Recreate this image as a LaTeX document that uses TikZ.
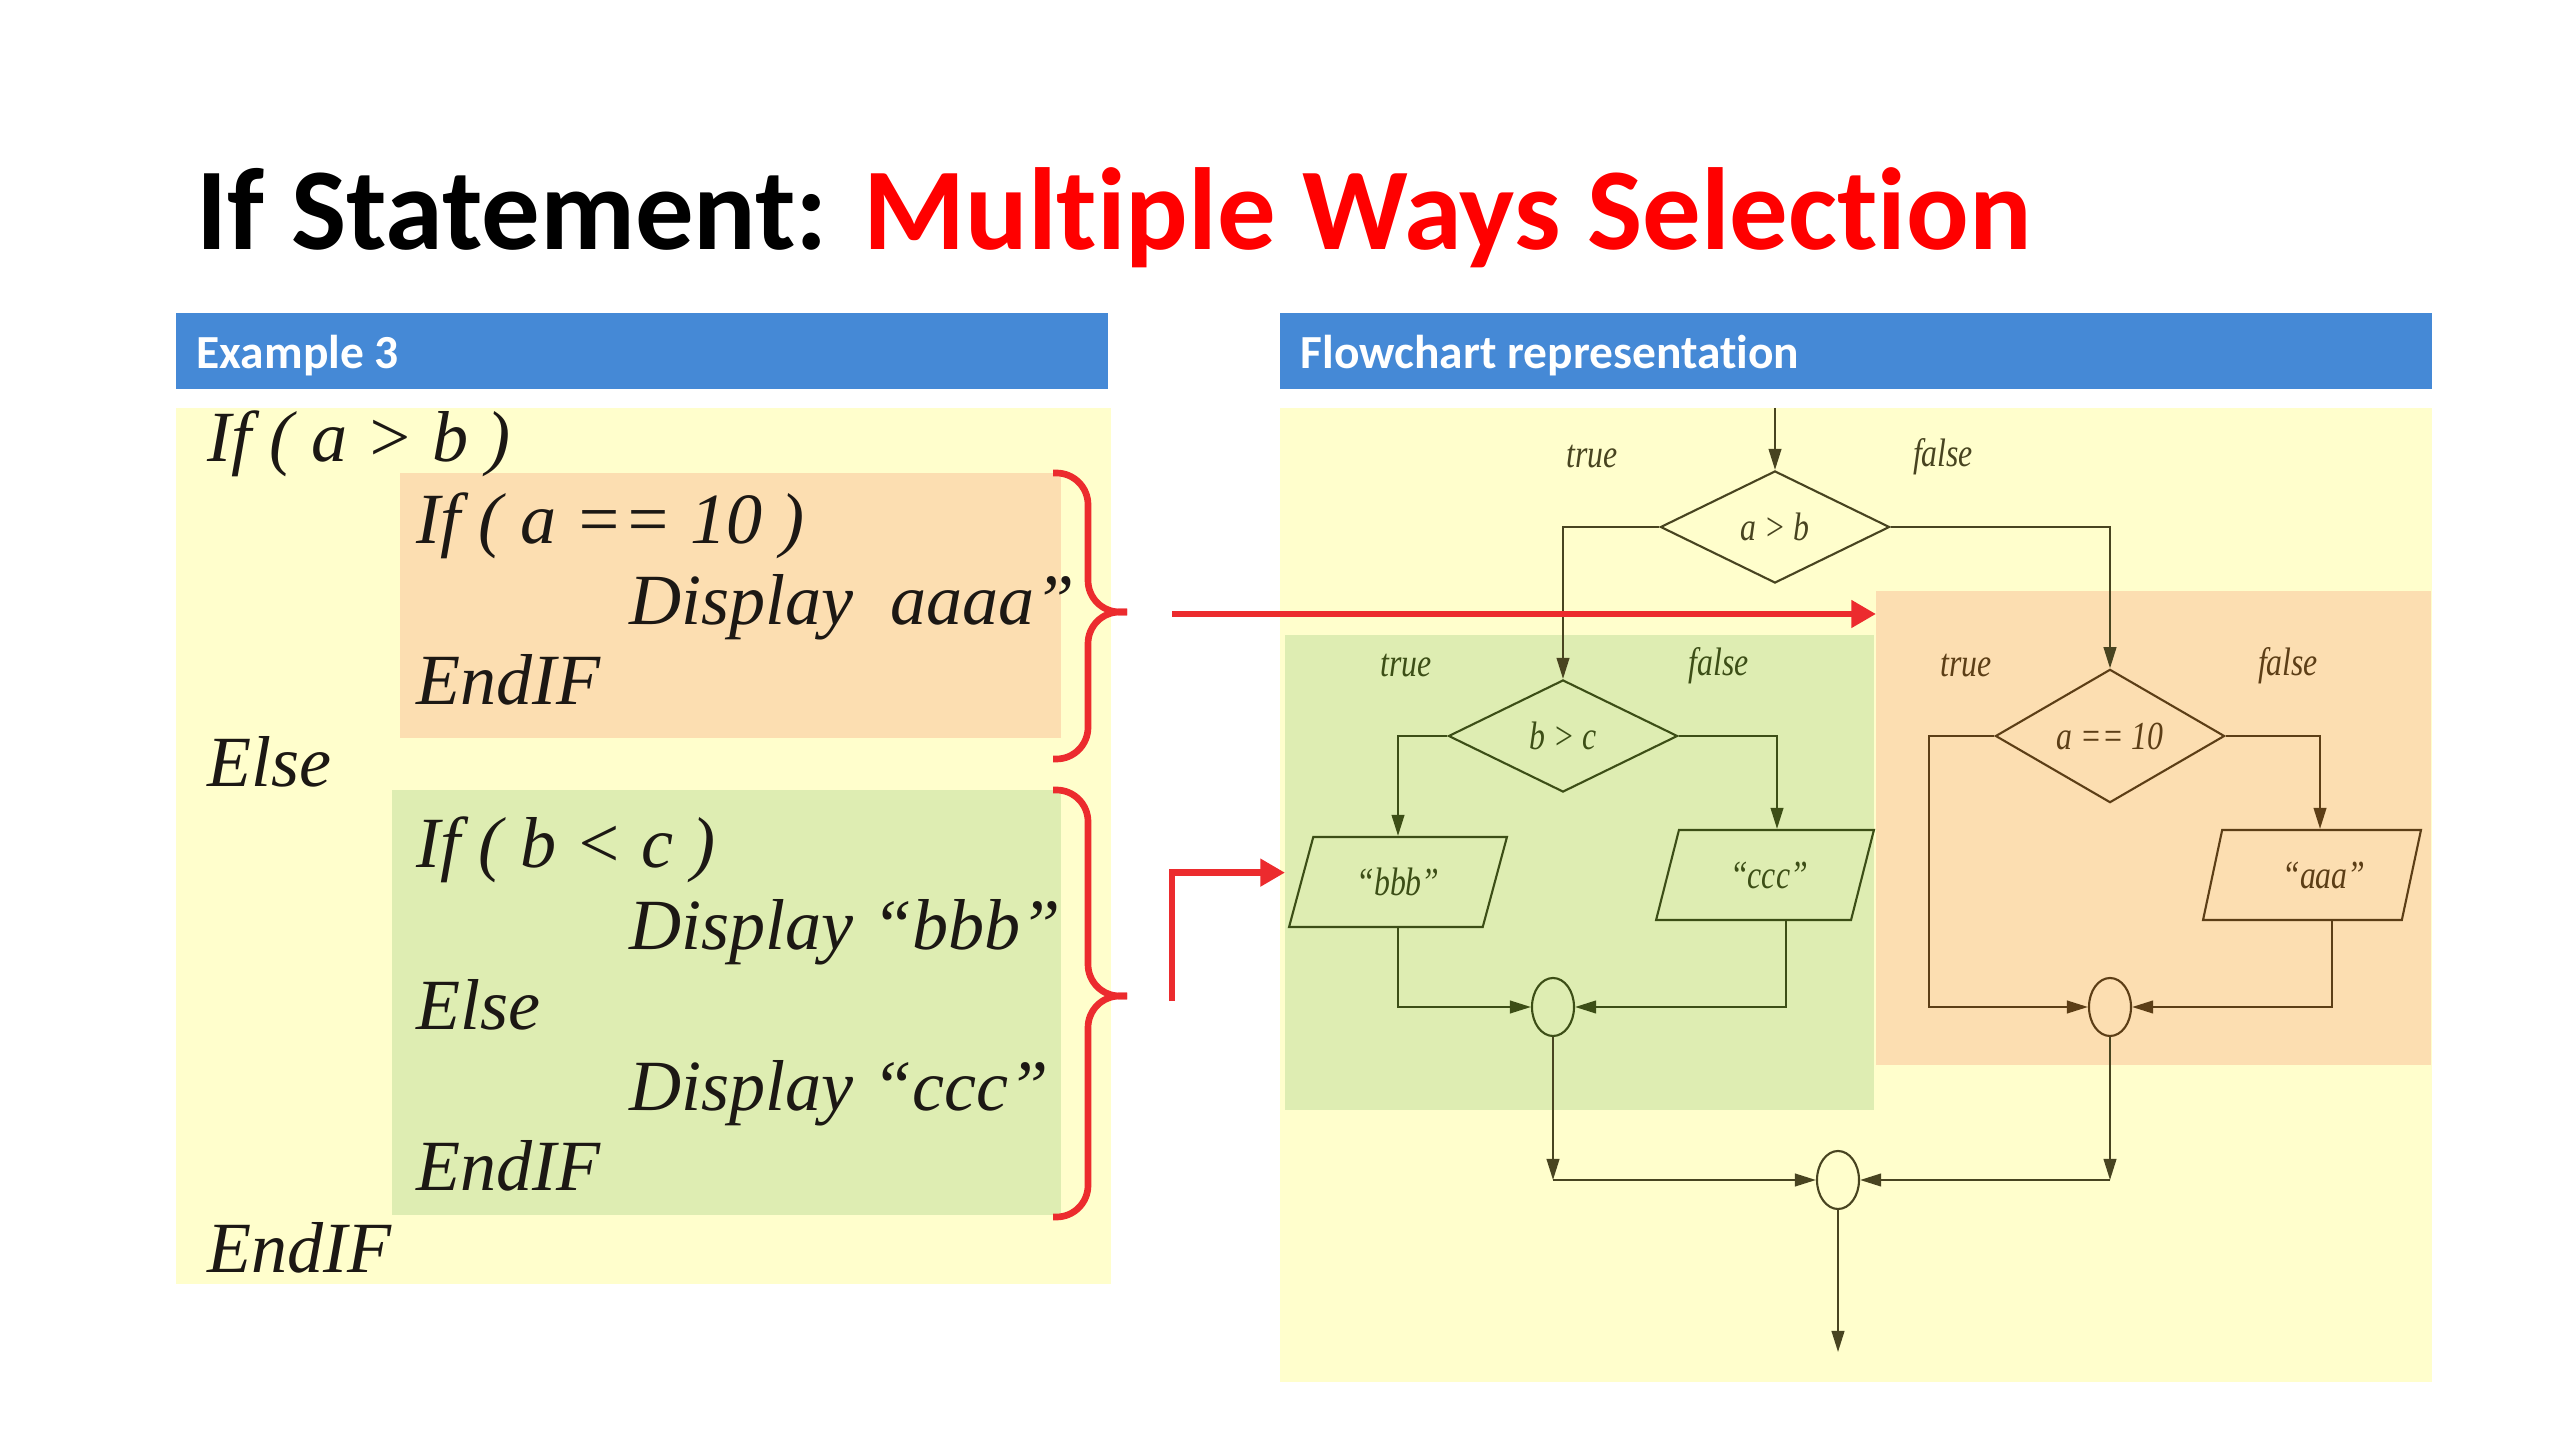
\documentclass[tikz,border=0pt]{standalone}
\usepackage{fontspec}
\setmainfont{Liberation Serif}
\newfontfamily\slidefont[Ligatures=NoCommon]{Carlito}
\newfontfamily\flowfont[FakeStretch=0.8]{Liberation Serif}
\usetikzlibrary{arrows.meta,shapes.geometric,calc}

\definecolor{hdrblue}{RGB}{69,137,214}
\definecolor{paleyellow}{RGB}{255,254,204}
\definecolor{codeorange}{RGB}{252,222,177}
\definecolor{codegreen}{RGB}{222,237,178}
\definecolor{arrowred}{RGB}{236,43,46}
\definecolor{titlered}{RGB}{255,0,0}
\definecolor{codeink}{RGB}{28,24,20}
\definecolor{flowdark}{RGB}{72,68,32}
\definecolor{flowgreen}{RGB}{60,78,22}
\definecolor{flowbrown}{RGB}{92,62,22}

\begin{document}
\begin{tikzpicture}[x=0.01cm, y=-0.01cm,
    panel/.style={rectangle, inner sep=0, outer sep=0, anchor=north west},
    hdrbar/.style={panel, fill=hdrblue, minimum height=0.76cm},
    hdrtext/.style={anchor=west, inner sep=0, text=white, font=\slidefont\bfseries\fontsize{13.5}{16}\selectfont},
    codeline/.style={anchor=base west, inner sep=0, text=codeink, font=\itshape\fontsize{20.5}{24}\selectfont},
    flowtext/.style={font=\flowfont\itshape\fontsize{11.3}{13}\selectfont},
    flow/.style={line width=0.6pt, -{Triangle[length=6pt, width=3.6pt]}},
    decision/.style={diamond, draw, inner sep=0, minimum width=2.29cm, minimum height=1.12cm, line width=0.6pt, flowtext},
    outbox/.style={trapezium, trapezium left angle=67, trapezium right angle=113, trapezium stretches=true, draw, inner sep=0, minimum width=2.18cm, minimum height=0.9cm, line width=0.6pt, flowtext},
    joinpt/.style={ellipse, draw, inner sep=0, minimum width=0.42cm, minimum height=0.58cm, line width=0.6pt},
    branch/.style={inner sep=0, flowtext},
    redarrow/.style={draw=arrowred, line width=1.9pt, -{Triangle[length=7pt, width=7.5pt]}},
    redbrace/.style={draw=arrowred, line width=1.9pt, rounded corners=9pt}
  ]
  \fill[white] (0,0) rectangle (2560,1440);
  \useasboundingbox (0,0) rectangle (2560,1440);

  % title
  \node[anchor=base west, inner sep=0, font=\slidefont\bfseries\fontsize{33.2}{40}\selectfont] (title) at (196,250)
    {If Statement: \textcolor{titlered}{Multiple Ways Selection}};

  % left side: pseudo code
  \node[hdrbar, minimum width=9.31cm] (lhdr) at (176,313) {};
  \node[hdrtext] (lhdrtxt) at ($(lhdr.west)+(20,5)$) {Example 3};
  \node[panel, fill=paleyellow, minimum width=9.34cm, minimum height=8.75cm] (lpanel) at (176,408) {};
  \node[panel, fill=codeorange, minimum width=6.61cm, minimum height=2.65cm] (lorange) at (400,473) {};
  \node[panel, fill=codegreen, minimum width=6.69cm, minimum height=4.25cm] (lgreen) at (392,790) {};

  \node[codeline] (l1) at (207,462) {If ( a > b )};
  \node[codeline] (l2) at (416,544) {If ( a == 10 )};
  \node[codeline] (l3) at (629,625) {Display\ \ aaaa”};
  \node[codeline] (l4) at (416,705) {EndIF};
  \node[codeline] (l5) at (207,787) {Else};
  \node[codeline] (l6) at (416,867) {If ( b < c )};
  \node[codeline] (l7) at (629,949) {Display “bbb”};
  \node[codeline] (l8) at (416,1029) {Else};
  \node[codeline] (l9) at (629,1110) {Display “ccc”};
  \node[codeline] (l10) at (416,1190) {EndIF};
  \node[codeline] (l11) at (207,1272) {EndIF};

  % right side: flowchart
  \node[hdrbar, minimum width=11.51cm] (rhdr) at (1280,313) {};
  \node[hdrtext] (rhdrtxt) at ($(rhdr.west)+(20,5)$) {Flowchart representation};
  \node[panel, fill=paleyellow, minimum width=11.51cm, minimum height=9.73cm] (rpanel) at (1280,408) {};
  \node[panel, fill=codegreen, minimum width=5.89cm, minimum height=4.75cm] (gbox) at (1285,635) {};
  \node[panel, fill=codeorange, minimum width=5.55cm, minimum height=4.74cm] (obox) at (1876,591) {};

  \node[decision, draw=flowdark, text=flowdark] (ab) at (1775,527) {a > b};
  \node[decision, draw=flowgreen, text=flowgreen] (bc) at (1563,736) {b > c};
  \node[decision, draw=flowbrown, text=flowbrown] (aten) at (2110,736) {a == 10};

  \node[branch, text=flowdark] (abt) at (1592,457) {true};
  \node[branch, text=flowdark] (abf) at (1943,457) {false};
  \node[branch, text=flowgreen] (bct) at (1406,666) {true};
  \node[branch, text=flowgreen] (bcf) at (1719,666) {false};
  \node[branch, text=flowbrown] (atent) at (1966,666) {true};
  \node[branch, text=flowbrown] (atenf) at (2288,666) {false};

  \node[outbox, draw=flowgreen, text=flowgreen] (bbb) at (1398,882) {“bbb”};
  \node[outbox, draw=flowgreen, text=flowgreen] (ccc) at (1765,875) {\ “ccc”};
  \node[outbox, draw=flowbrown, text=flowbrown] (aaa) at (2312,875) {\ \ \ “aaa”};

  \node[joinpt, draw=flowgreen] (m1) at (1553,1007) {};
  \node[joinpt, draw=flowbrown] (m2) at (2110,1007) {};
  \node[joinpt, draw=flowdark] (m3) at (1838,1180) {};

  \coordinate (start) at (1775,408);
  \coordinate (finish) at (1838,1352);
  \coordinate (j1) at (m1 |- m3);
  \coordinate (j2) at (m2 |- m3);

  \draw[flow, flowdark] (start) -- (ab.north);
  \draw[flow, flowdark] (ab.west) -| (bc.north);
  \draw[flow, flowdark] (ab.east) -| (aten.north);
  \draw[flow, flowgreen] (bc.west) -| (bbb.north);
  \draw[flow, flowgreen] (bc.east) -| ($(ccc.north)+(12,0)$);
  \draw[flow, flowbrown] (aten.east) -| ($(aaa.north)+(8,0)$);
  \draw[flow, flowbrown] (aten.west) -- ++(-65,0) |- (m2.west);
  \draw[flow, flowgreen] (bbb.south) |- (m1.west);
  \draw[flow, flowgreen] ($(ccc.south)+(21,0)$) |- (m1.east);
  \draw[flow, flowbrown] ($(aaa.south)+(20,0)$) |- (m2.east);
  \draw[flow, flowdark] (m1.south) -- (j1);
  \draw[flow, flowdark] (j1) -- (m3.west);
  \draw[flow, flowdark] (m2.south) -- (j2);
  \draw[flow, flowdark] (j2) -- (m3.east);
  \draw[flow, flowdark] (m3.south) -- (finish);

  % braces and red pointers
  \draw[redbrace] (1053,473) -- (1088,473) -- (1088,612) -- (1127,612);
  \draw[redbrace] (1127,612) -- (1088,612) -- (1088,759) -- (1053,759);
  \draw[redbrace] (1053,790) -- (1088,790) -- (1088,996) -- (1127,996);
  \draw[redbrace] (1127,996) -- (1088,996) -- (1088,1217) -- (1053,1217);

  \coordinate (r1s) at (1172,614);
  \coordinate (r2s) at (1172,1001);
  \draw[redarrow] (r1s) -- (r1s -| obox.west);
  \draw[redarrow] (r2s) |- (gbox.west);
\end{tikzpicture}
\end{document}
